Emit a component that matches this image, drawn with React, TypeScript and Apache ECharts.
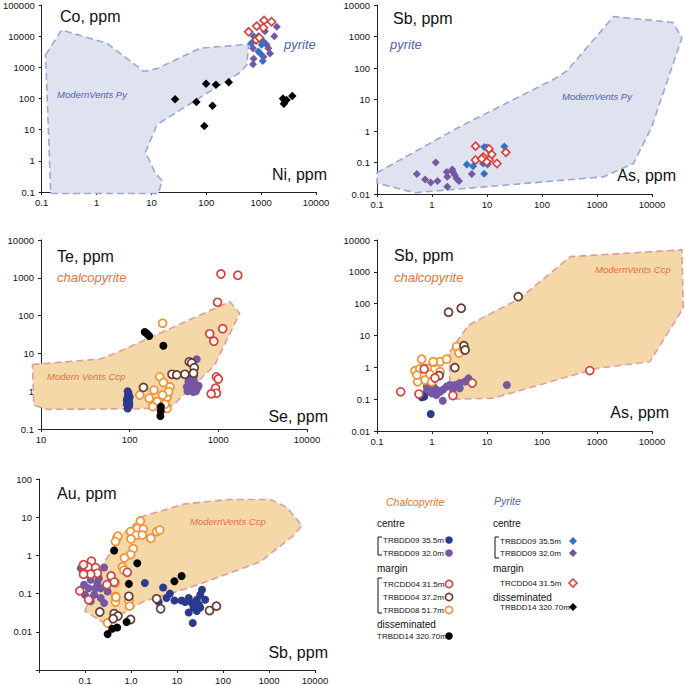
import React, { useEffect, useRef } from 'react';
import * as echarts from 'echarts';

// ---------- tick labels (index 0 = lowest decade exponent) ----------
const ticksX1 = ['0.1', '1', '10', '100', '1000', '10000'];
const ticksY1 = ['0.1', '1', '10', '100', '1000', '10000', '100000'];
const ticksX2 = ['0.1', '1', '10', '100', '1000', '10000'];
const ticksY2 = ['0.01', '0.1', '1', '10', '100', '1000', '10000'];
const ticksX3 = ['10', '100', '1000', '10000'];
const ticksY3 = ['0.1', '1', '10', '100', '1000', '10000'];
const ticksX4 = ['0.1', '1', '10', '100', '1000', '10000'];
const ticksY4 = ['0.01', '0.1', '1', '10', '100', '1000', '10000'];
const ticksX5 = ['', '0.1', '1.0', '10', '100', '1000', '10000'];
const ticksY5 = ['', '0.01', '0.1', '1', '10', '100'];

// ---------- Panel 1: Co vs Ni (pyrite) ----------
const p1Field = [[0.118, 2500], [0.23, 15700], [1.56, 5900], [7.2, 740], [12.6, 910], [77, 4100], [590, 5500], [550, 1200], [400, 660], [12.6, 14.5], [7.8, 1.9], [11.8, 0.39], [15.6, 0.24], [13.5, 0.09], [0.146, 0.09]];
const p1Py355 = [[730, 10000], [890, 10000], [660, 5900], [1020, 5300], [960, 2800], [1070, 1600], [890, 3200], [1100, 6700]];
const p1Py320 = [[1930, 20000], [1740, 10000], [1170, 14500], [710, 4100], [1450, 2800], [730, 1900], [710, 1260], [1260, 5300], [1350, 4100], [1100, 2200]];
const p1PyMargin = [[590, 13800], [830, 21000], [1130, 32000], [1550, 29000], [1100, 18600], [810, 7600], [930, 8900]];
const p1PyDiss = [[27, 94], [99, 295], [150, 275], [257, 330], [66, 77], [130, 58], [92, 13], [2500, 100], [2700, 85], [3700, 120], [2600, 68], [2900, 90]];

// ---------- Panel 2: Sb vs As (pyrite) ----------
const p2Field = [[0.1, 0.047], [3.2, 1.37], [160, 43], [280, 79], [2000, 4300], [24000, 2800], [35000, 900], [9800, 1.3], [4600, 0.093], [1300, 0.035], [0.49, 0.011], [0.1, 0.022]];
const p2Py355 = [[4.3, 0.087], [5.6, 0.076], [8.5, 0.093], [10.2, 0.086], [8.9, 0.044], [8.9, 0.31], [9.9, 0.3], [20.7, 0.32], [10.2, 0.27]];
const p2Py320 = [[0.53, 0.043], [0.75, 0.029], [0.95, 0.023], [1.26, 0.026], [1.17, 0.1], [1.85, 0.05], [2.34, 0.06], [1.9, 0.035], [2.6, 0.04], [2.8, 0.031], [3.1, 0.026], [1.9, 0.017], [5.3, 0.043], [2.4, 0.05]];
const p2PyMargin = [[6.2, 0.33], [10.9, 0.27], [6.2, 0.12], [8.5, 0.148], [12.2, 0.18], [10.9, 0.12], [15.2, 0.093], [22, 0.21], [9.9, 0.105], [8, 0.13]];

// ---------- Panel 3: Te vs Se (chalcopyrite) ----------
const p3Field = [[8, 5.1], [47, 7.1], [75, 11], [1350, 234], [1740, 115], [910, 4.9], [310, 0.43], [218, 0.35], [11.7, 0.33], [8.3, 0.43]];
const p3Cp355 = [[95, 0.35], [97, 0.4], [93, 0.45], [99, 0.5], [95, 0.55], [98, 0.6], [94, 0.65], [100, 0.7], [96, 0.8], [97, 0.9], [95, 1.0], [99, 0.42], [93, 0.58], [98, 0.75]];
const p3Cp320 = [[450, 1.0], [480, 1.1], [520, 1.2], [560, 1.0], [470, 1.4], [510, 1.5], [550, 1.3], [600, 1.4], [460, 1.8], [500, 1.9], [540, 1.7], [580, 1.2], [490, 2.2], [530, 2.4], [570, 7.0], [440, 1.3], [520, 0.95]];
const p3CpOrange = [[235, 63], [218, 2.4], [240, 1.7], [188, 1.07], [285, 1.3], [130, 0.79], [166, 0.65], [204, 0.53], [264, 0.69], [275, 0.97], [182, 0.39], [264, 0.35], [235, 0.79], [250, 0.45]];
const p3CpBrown = [[143, 1.26], [300, 2.8], [340, 2.7], [420, 2.8], [470, 6.0], [500, 5.6], [535, 4.2], [525, 3.0]];
const p3CpRed = [[1070, 1260], [1660, 1170], [980, 225], [1120, 45], [800, 33], [890, 21], [950, 2.4], [1000, 2.1], [930, 1.2], [950, 0.88], [830, 0.85]];
const p3CpDiss = [[148, 37], [166, 29], [157, 33], [240, 16], [225, 0.39], [222, 0.22], [224, 0.3]];

// ---------- Panel 4: Sb vs As (chalcopyrite) ----------
const p4Field = [[2.1, 3.1], [4.6, 21], [40, 148], [325, 3000], [35000, 4900], [37000, 72], [9100, 1.5], [1000, 0.93], [13, 0.107], [2.8, 0.1], [2.1, 0.28]];
const p4Cp355 = [[0.65, 0.115], [0.95, 0.034], [0.72, 0.12]];
const p4Cp320 = [[0.8, 0.17], [0.92, 0.23], [1.06, 0.25], [1.2, 0.2], [1.4, 0.17], [1.6, 0.2], [1.85, 0.25], [2.1, 0.28], [2.6, 0.28], [3.2, 0.32], [4.0, 0.36], [4.6, 0.45], [3.2, 0.22], [1.2, 0.135], [1.57, 0.089], [1.0, 0.15], [2.4, 0.2], [0.8, 0.25], [23, 0.28]];
const p4CpOrange = [[0.65, 1.8], [0.49, 0.78], [0.6, 0.89], [0.82, 0.93], [1.1, 1.45], [1.4, 1.5], [1.85, 1.8], [0.55, 0.35], [0.75, 0.4], [0.92, 0.6], [1.4, 0.73], [0.99, 0.35], [2.8, 4.5], [3.1, 2.8], [3.8, 3.5], [1.05, 1.5], [0.53, 0.57]];
const p4CpBrown = [[2.0, 54], [3.4, 72], [37, 166], [3.8, 4.8], [4.0, 3.5], [2.6, 0.98], [1.35, 0.55]];
const p4CpRed = [[0.27, 0.17], [0.58, 0.145], [0.72, 0.89], [1.13, 0.46], [2.4, 0.13], [5.4, 0.32], [740, 0.79]];

// ---------- Panel 5: Au vs Sb (chalcopyrite) ----------
const p5Field = [[0.1, 0.035], [0.22, 0.46], [0.6, 3.3], [1.9, 10.7], [14, 22], [123, 29], [1070, 29], [2450, 18], [5200, 6.0], [3400, 3.3], [650, 0.68], [17, 0.137], [1.9, 0.063], [0.6, 0.028], [0.26, 0.017]];
const p5Cp355 = [[2.0, 0.19], [5.0, 0.144], [7.0, 0.1], [5.9, 0.077], [8.8, 0.066], [12.6, 0.066], [18, 0.077], [15, 0.06], [21, 0.057], [27, 0.069], [35, 0.126], [32, 0.093], [30, 0.051], [23, 0.043], [18, 0.032], [22, 0.017], [32, 0.043], [27, 0.035], [4.0, 0.06], [41, 0.069]];
const p5Cp320 = [[0.081, 0.46], [0.145, 0.34], [0.26, 0.48], [0.133, 0.23], [0.185, 0.19], [0.22, 0.138], [0.31, 0.114], [0.158, 0.093], [0.22, 0.077], [0.133, 0.063], [0.26, 0.057], [0.095, 0.17], [0.17, 0.138], [0.12, 0.138], [0.33, 0.19], [0.2, 0.25], [0.1, 0.093]];
const p5CpOrange = [[1.6, 8.0], [1.37, 5.1], [1.85, 4.9], [0.98, 4.2], [1.3, 3.4], [1.76, 3.4], [1.0, 2.7], [2.7, 2.8], [3.6, 4.2], [4.2, 4.6], [0.49, 2.8], [0.52, 3.2], [0.46, 2.3], [1.12, 1.5], [0.98, 1.05], [0.72, 0.86], [0.65, 0.5], [0.7, 0.41], [0.46, 0.19], [0.46, 0.085], [0.46, 0.06], [0.31, 0.017], [0.9, 0.066], [0.93, 0.047], [0.47, 0.08]];
const p5CpBrown = [[0.21, 0.033], [0.43, 0.03], [0.52, 0.026], [0.9, 0.085], [0.98, 0.021], [0.41, 0.022], [4.4, 0.04], [3.6, 0.073], [51, 0.036], [72, 0.047]];
const p5CpRed = [[0.138, 0.71], [0.117, 0.5], [0.093, 0.57], [0.17, 0.48], [0.185, 0.34], [0.133, 0.32], [0.093, 0.32], [0.37, 0.29], [0.43, 0.2], [0.3, 0.17], [0.077, 0.118], [0.12, 0.069], [0.83, 0.36]];
const p5CpDiss = [[0.43, 1.35], [1.37, 0.62], [0.9, 0.18], [8.8, 0.21], [12.6, 0.29], [0.8, 0.018], [0.5, 0.013], [0.39, 0.012], [0.31, 0.0087]];

// ---------- styles ----------
const FONT = 'Liberation Sans, Arial, sans-serif';
const C_BLUE = '#2c3a8e';
const C_PURPLE = '#7557a3';
const C_RED = '#d5423d';
const C_BROWN = '#6b3a30';
const C_ORANGE = '#f29433';
const PY_BLUE = '#3371c6';
const PY_FILL = '#dfe3ef';
const PY_STROKE = '#9ea6d6';
const CP_FILL = '#f4d8a8';
const CP_STROKE = '#dc9f9c';
const PY_TEXT = '#4d60b4';
const CP_TEXT = '#e2733a';

const grids = [
  { left: 41, top: 3, width: 275, height: 189 },
  { left: 377, top: 5, width: 275, height: 189 },
  { left: 41, top: 240, width: 266, height: 189 },
  { left: 377, top: 240, width: 275, height: 191 },
  { left: 39, top: 479, width: 276, height: 194 },
];

const axisDefs = [
  { x: [-1, 4, ticksX1], y: [-1, 5, ticksY1] },
  { x: [-1, 4, ticksX2], y: [-2, 4, ticksY2] },
  { x: [1, 4, ticksX3], y: [-1, 4, ticksY3] },
  { x: [-1, 4, ticksX4], y: [-2, 4, ticksY4] },
  { x: [-2, 4, ticksX5], y: [-3, 2, ticksY5] },
];

function logAxis(gi: number, def: any[], isX: boolean) {
  const [minE, maxE, labels] = def as [number, number, string[]];
  return {
    type: 'log',
    logBase: 10,
    gridIndex: gi,
    min: Math.pow(10, minE),
    max: Math.pow(10, maxE),
    splitLine: { show: false },
    axisLine: { show: true, lineStyle: { color: '#222', width: 1 } },
    axisTick: { show: true, length: 3, lineStyle: { color: '#222' } },
    minorTick: { show: false },
    axisLabel: {
      fontSize: 9.5,
      fontFamily: FONT,
      color: '#111',
      margin: isX ? 5 : 7,
      formatter: (v: number) => {
        const e = Math.round(Math.log10(v));
        return labels[e - minE] ?? '';
      },
    },
  };
}

function field(verts: number[][], gi: number, fill: string, stroke: string) {
  return {
    type: 'custom',
    xAxisIndex: gi,
    yAxisIndex: gi,
    data: verts,
    clip: false,
    silent: true,
    z: 1,
    renderItem: (params: any, api: any) => {
      if (params.dataIndex !== 0) return null;
      return {
        type: 'polygon',
        shape: { points: verts.map((v) => api.coord(v)) },
        style: { fill, stroke, lineWidth: 1.6, lineDash: [7, 4] },
      };
    },
  };
}

function pts(data: number[][], gi: number, symbol: string, color: string, open: boolean, size: number, z: number) {
  return {
    type: 'scatter',
    xAxisIndex: gi,
    yAxisIndex: gi,
    data,
    symbol,
    symbolSize: size,
    silent: true,
    z,
    itemStyle: open
      ? { color: '#ffffff', borderColor: color, borderWidth: 1.7, opacity: 1 }
      : { color, opacity: 1 },
  };
}

function txt(text: string, x: number, y: number, size: number, fill: string, opts: any = {}) {
  return {
    type: 'text',
    x,
    y,
    silent: true,
    z: 10,
    style: {
      text,
      fontSize: size,
      fontFamily: FONT,
      fontStyle: opts.italic ? 'italic' : 'normal',
      fill,
      align: opts.align || 'left',
      verticalAlign: 'middle',
    },
  };
}

function bracket(x: number, y1: number, y2: number) {
  return {
    type: 'polyline',
    silent: true,
    shape: { points: [[x + 4, y1], [x, y1], [x, y2], [x + 4, y2]] },
    style: { stroke: '#111', lineWidth: 1, fill: 'none' },
  };
}

function dot(cx: number, cy: number, color: string, open: boolean) {
  return {
    type: 'circle',
    silent: true,
    shape: { cx, cy, r: open ? 3.6 : 3.8 },
    style: open ? { fill: '#fff', stroke: color, lineWidth: 1.7 } : { fill: color },
  };
}

function dia(cx: number, cy: number, color: string, open: boolean) {
  const r = 4;
  return {
    type: 'polygon',
    silent: true,
    shape: { points: [[cx, cy - r], [cx + r, cy], [cx, cy + r], [cx - r, cy]] },
    style: open ? { fill: '#fff', stroke: color, lineWidth: 1.6 } : { fill: color },
  };
}

export default function App() {
  const ref = useRef<HTMLDivElement>(null);
  useEffect(() => {
    if (!ref.current) return;
    const chart = echarts.init(ref.current, undefined, { renderer: 'svg' });
    const xAxis = axisDefs.map((d, i) => logAxis(i, d.x, true));
    const yAxis = axisDefs.map((d, i) => logAxis(i, d.y, false));
    const series: any[] = [
      field(p1Field, 0, PY_FILL, PY_STROKE),
      pts(p1Py320, 0, 'diamond', C_PURPLE, false, 8, 2),
      pts(p1Py355, 0, 'diamond', PY_BLUE, false, 8, 3),
      pts(p1PyMargin, 0, 'diamond', C_RED, true, 8, 4),
      pts(p1PyDiss, 0, 'diamond', '#000', false, 8.5, 5),

      field(p2Field, 1, PY_FILL, PY_STROKE),
      pts(p2Py320, 1, 'diamond', C_PURPLE, false, 8, 2),
      pts(p2Py355, 1, 'diamond', PY_BLUE, false, 8, 3),
      pts(p2PyMargin, 1, 'diamond', C_RED, true, 8, 4),

      field(p3Field, 2, CP_FILL, CP_STROKE),
      pts(p3Cp320, 2, 'circle', C_PURPLE, false, 8, 2),
      pts(p3Cp355, 2, 'circle', C_BLUE, false, 8, 3),
      pts(p3CpOrange, 2, 'circle', C_ORANGE, true, 8, 4),
      pts(p3CpBrown, 2, 'circle', C_BROWN, true, 8, 5),
      pts(p3CpRed, 2, 'circle', C_RED, true, 8, 6),
      pts(p3CpDiss, 2, 'circle', '#000', false, 8, 7),

      field(p4Field, 3, CP_FILL, CP_STROKE),
      pts(p4Cp320, 3, 'circle', C_PURPLE, false, 8, 2),
      pts(p4Cp355, 3, 'circle', C_BLUE, false, 8, 3),
      pts(p4CpOrange, 3, 'circle', C_ORANGE, true, 8, 4),
      pts(p4CpBrown, 3, 'circle', C_BROWN, true, 8, 5),
      pts(p4CpRed, 3, 'circle', C_RED, true, 8, 6),

      field(p5Field, 4, CP_FILL, CP_STROKE),
      pts(p5Cp320, 4, 'circle', C_PURPLE, false, 8, 2),
      pts(p5Cp355, 4, 'circle', C_BLUE, false, 8, 3),
      pts(p5CpOrange, 4, 'circle', C_ORANGE, true, 8, 4),
      pts(p5CpBrown, 4, 'circle', C_BROWN, true, 8, 5),
      pts(p5CpRed, 4, 'circle', C_RED, true, 8, 6),
      pts(p5CpDiss, 4, 'circle', '#000', false, 8, 7),
    ];

    const NAME = 16;
    const graphic: any[] = [
      // panel 1
      txt('Co, ppm', 60, 16, NAME, '#111'),
      txt('Ni, ppm', 327, 174, NAME, '#111', { align: 'right' }),
      txt('pyrite', 284, 44, 13, PY_TEXT, { italic: true }),
      txt('ModernVents Py', 57, 94, 9.5, PY_TEXT, { italic: true }),
      // panel 2
      txt('Sb, ppm', 393, 18, NAME, '#111'),
      txt('pyrite', 390, 44, 13, PY_TEXT, { italic: true }),
      txt('ModernVents Py', 562, 96, 9.5, PY_TEXT, { italic: true }),
      txt('As, ppm', 676, 175, NAME, '#111', { align: 'right' }),
      // panel 3
      txt('Te, ppm', 57, 256, NAME, '#111'),
      txt('chalcopyrite', 57, 277, 13, CP_TEXT, { italic: true }),
      txt('Modern Vents Ccp', 47, 376, 9.5, CP_TEXT, { italic: true }),
      txt('Se, ppm', 328, 416, NAME, '#111', { align: 'right' }),
      // panel 4
      txt('Sb, ppm', 394, 255, NAME, '#111'),
      txt('chalcopyrite', 394, 277, 13, CP_TEXT, { italic: true }),
      txt('ModernVents Ccp', 595, 269, 9.5, CP_TEXT, { italic: true }),
      txt('As, ppm', 669, 412, NAME, '#111', { align: 'right' }),
      // panel 5
      txt('Au, ppm', 57, 493, NAME, '#111'),
      txt('ModernVents Ccp', 190, 521, 9.5, CP_TEXT, { italic: true }),
      txt('Sb, ppm', 328, 652, NAME, '#111', { align: 'right' }),

      // legend: chalcopyrite
      txt('Chalcopyrite', 386, 502, 10.5, CP_TEXT, { italic: true }),
      txt('centre', 377, 523, 10, '#111'),
      bracket(378, 537, 555),
      txt('TRBDD09 35.5m', 383, 540, 8, '#111'),
      dot(449, 540, C_BLUE, false),
      txt('TRBDD09 32.0m', 383, 553, 8, '#111'),
      dot(449, 553, C_PURPLE, false),
      txt('margin', 377, 568, 10, '#111'),
      bracket(378, 578, 613),
      txt('TRCDD04 31.5m', 383, 584, 8, '#111'),
      dot(449, 584, C_RED, true),
      txt('TRBDD04 37.2m', 383, 597, 8, '#111'),
      dot(449, 597, C_BROWN, true),
      txt('TRBDD08 51.7m', 383, 610, 8, '#111'),
      dot(449, 610, C_ORANGE, true),
      txt('disseminated', 377, 624, 10, '#111'),
      txt('TRBDD14 320.70m', 377, 636, 8, '#111'),
      dot(449, 636, '#000', false),

      // legend: pyrite
      txt('Pyrite', 494, 501, 10.5, PY_TEXT, { italic: true }),
      txt('centre', 493, 523, 10, '#111'),
      bracket(495, 537, 558),
      txt('TRBDD09 35.5m', 500, 541, 8, '#111'),
      dia(573, 541, PY_BLUE, false),
      txt('TRBDD09 32.0m', 500, 553, 8, '#111'),
      dia(573, 553, C_PURPLE, false),
      txt('margin', 493, 568, 10, '#111'),
      txt('TRCDD04 31.5m', 500, 583, 8, '#111'),
      dia(573, 583, C_RED, true),
      txt('disseminated', 493, 597, 10, '#111'),
      txt('TRBDD14 320.70m', 500, 607, 8, '#111'),
      dia(573, 607, '#000', false),
    ];

    chart.setOption({
      animation: false,
      backgroundColor: '#ffffff',
      textStyle: { fontFamily: FONT },
      grid: grids.map((g) => ({ ...g, containLabel: false })),
      xAxis,
      yAxis,
      series,
      graphic,
    });
    return () => chart.dispose();
  }, []);
  return (
    <div
      ref={ref}
      style={{ position: 'fixed', left: 0, top: 0, width: 685, height: 685, background: '#fff' }}
    />
  );
}
